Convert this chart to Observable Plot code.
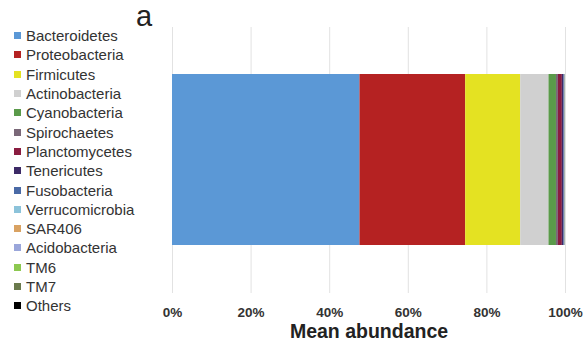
<!DOCTYPE html>
<html>
<head>
<meta charset="utf-8">
<script src="https://cdn.jsdelivr.net/npm/d3@7"></script>
<script src="https://cdn.jsdelivr.net/npm/@observablehq/plot@0.6"></script>
<style>
  html, body { margin: 0; padding: 0; background: #fff; }
  #wrap { position: relative; width: 587px; height: 348px; font-family: "Liberation Sans", Arial, sans-serif; overflow: hidden; }
  #legend { position: absolute; left: 14px; top: 26px; }
  .item { height: 19.3px; display: flex; align-items: center; font-size: 15px; color: #333; white-space: nowrap; }
  .sw { width: 7px; height: 7px; margin-right: 5px; flex: none; }
  #panel { position: absolute; left: 136px; top: 2px; font-size: 29px; line-height: 1; color: #222; }
</style>
</head>
<body>
<div id="wrap">
  <div id="chart"></div>
  <div id="legend"></div>
  <div id="panel">a</div>
</div>
<script>
const phyla = ["Bacteroidetes","Proteobacteria","Firmicutes","Actinobacteria","Cyanobacteria","Spirochaetes","Planctomycetes","Tenericutes","Fusobacteria","Verrucomicrobia","SAR406","Acidobacteria","TM6","TM7","Others"];
const abundance = [47.7, 26.9, 14.0, 7.2, 1.9, 0.5, 1.0, 0.4, 0.2, 0.06, 0.04, 0.04, 0.02, 0.02, 0.02];
const colors = ["#5b98d6","#b52222","#e4e222","#d0d0d0","#5a9a4a","#7a6878","#8a1c40","#3c2a66","#4a6aa6","#8cc3da","#d9a262","#9aa6da","#8cc850","#6a7a4c","#000000"];
const xTicks = [0, 20, 40, 60, 80, 100];

const data = phyla.map((name, i) => ({group: "all", name, value: abundance[i]}));

const chart = Plot.plot({
  width: 587,
  height: 348,
  marginLeft: 172,
  marginRight: 22,
  marginTop: 27,
  marginBottom: 55,
  style: {fontFamily: "Liberation Sans, Arial, sans-serif", background: "#fff", overflow: "visible"},
  x: {domain: [0, 100], ticks: xTicks, tickFormat: d => d + "%", label: null},
  y: {axis: null, padding: 0.215},
  color: {domain: phyla, range: colors},
  marks: [
    Plot.ruleX(xTicks, {stroke: "#e2e2e2", strokeWidth: 1}),
    Plot.barX(data, Plot.stackX({y: "group", x: "value", fill: "name", order: null})),
    Plot.axisX({ticks: xTicks, tickFormat: d => d + "%", tickSize: 0, tickPadding: 14, fontSize: 13.5, fontWeight: "bold", fill: "#333", label: null}),
    Plot.text(["Mean abundance"], {frameAnchor: "bottom", dy: 44, fontSize: 19.5, fontWeight: "bold", fill: "#222"})
  ]
});
document.getElementById("chart").appendChild(chart);

const legend = document.getElementById("legend");
phyla.forEach((name, i) => {
  const item = document.createElement("div");
  item.className = "item";
  const sw = document.createElement("span");
  sw.className = "sw";
  sw.style.background = colors[i];
  item.appendChild(sw);
  item.appendChild(document.createTextNode(name));
  legend.appendChild(item);
});
</script>
</body>
</html>
